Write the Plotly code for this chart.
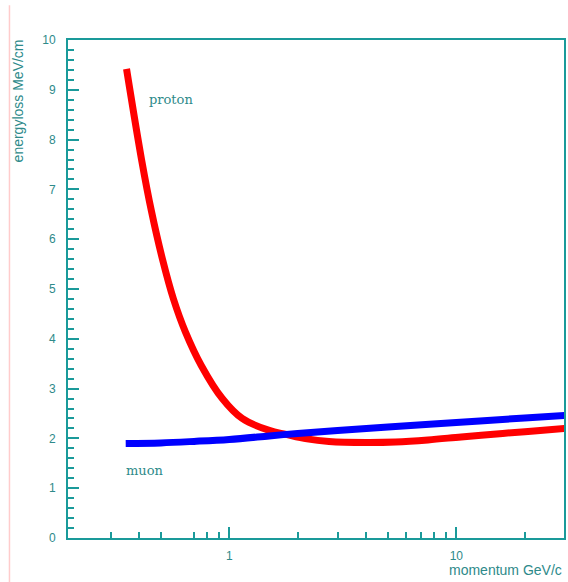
import plotly.graph_objects as go

# proton energy loss curve
proton_p = [0.353, 0.411, 0.455, 0.508, 0.568, 0.641, 0.754, 0.932, 1.14, 1.5, 1.78, 2.2, 2.75, 4.0, 5.4, 7.5, 10.5, 16, 22, 30]
proton_de = [9.42, 7.6, 6.55, 5.6, 4.8, 4.14, 3.46, 2.8, 2.4, 2.16, 2.08, 1.99, 1.94, 1.92, 1.93, 1.97, 2.03, 2.1, 2.15, 2.2]

# muon energy loss curve
muon_p = [0.35, 0.5, 0.7, 1.0, 1.5, 2.0, 3.0, 5.0, 10.0, 20.0, 30.0]
muon_de = [1.9, 1.91, 1.94, 1.98, 2.05, 2.1, 2.16, 2.23, 2.32, 2.41, 2.46]

x_major = [1, 10]
x_major_labels = ["1", "10"]
x_minor = [0.3, 0.4, 0.5, 0.7, 0.8, 0.9, 2, 3, 4, 5, 6, 7, 8, 9, 20]

AX = "#1a9a9a"
TXT = "#2e8a8a"

fig = go.Figure()
fig.add_trace(go.Scatter(x=proton_p, y=proton_de, mode="lines",
                         line=dict(color="#ff0000", width=7, shape="spline", smoothing=1.0),
                         showlegend=False))
fig.add_trace(go.Scatter(x=muon_p, y=muon_de, mode="lines",
                         line=dict(color="#0000ff", width=7, shape="spline", smoothing=1.0),
                         showlegend=False))

fig.update_layout(
    width=568, height=582,
    margin=dict(l=68, r=2, t=40, b=44),
    paper_bgcolor="white", plot_bgcolor="white",
    font=dict(family="Liberation Sans, Arial, sans-serif", size=12, color=TXT),
    xaxis=dict(type="log", range=[-0.71, 1.474], showgrid=False, zeroline=False,
               showline=True, linecolor=AX, linewidth=2, mirror=True,
               tickmode="array", tickvals=x_major, ticktext=x_major_labels,
               ticks="inside", ticklen=11, tickwidth=1.5, tickcolor=AX,
               ticklabelstandoff=6,
               minor=dict(tickmode="array", tickvals=x_minor, ticks="inside",
                          ticklen=6, tickwidth=1.5, tickcolor=AX, showgrid=False)),
    yaxis=dict(range=[0, 10], showgrid=False, zeroline=False,
               showline=True, linecolor=AX, linewidth=2, mirror=True,
               tickmode="linear", tick0=0, dtick=1,
               ticks="inside", ticklen=11, tickwidth=1.5, tickcolor=AX,
               ticklabelstandoff=8,
               minor=dict(tick0=0, dtick=0.2, ticks="inside", ticklen=6,
                          tickwidth=1.5, tickcolor=AX, showgrid=False)),
    annotations=[
        dict(text="proton", x=0.16, y=0.88, xref="paper", yref="paper",
             showarrow=False, xanchor="left", yanchor="middle",
             font=dict(family="DejaVu Serif, serif", size=13, color=TXT)),
        dict(text="muon", x=0.112, y=0.136, xref="paper", yref="paper",
             showarrow=False, xanchor="left", yanchor="middle",
             font=dict(family="DejaVu Serif, serif", size=13, color=TXT)),
        dict(text="energyloss MeV/cm", x=-0.1, y=1.005, xref="paper", yref="paper",
             showarrow=False, textangle=-90, xanchor="center", yanchor="top",
             font=dict(size=14, color=TXT)),
        dict(text="momentum GeV/c", x=1.0, y=-0.064, xref="paper", yref="paper",
             showarrow=False, xanchor="right", yanchor="middle",
             font=dict(size=14, color=TXT)),
    ],
    shapes=[
        dict(type="line", xref="paper", yref="paper", x0=-0.118, x1=-0.118,
             y0=1.07, y1=-0.09, line=dict(color="#ffcccc", width=1.5)),
    ],
)

fig.write_html("out.html", config={"displayModeBar": False},
               post_script="document.body.style.margin='0';document.body.style.overflow='hidden';")
